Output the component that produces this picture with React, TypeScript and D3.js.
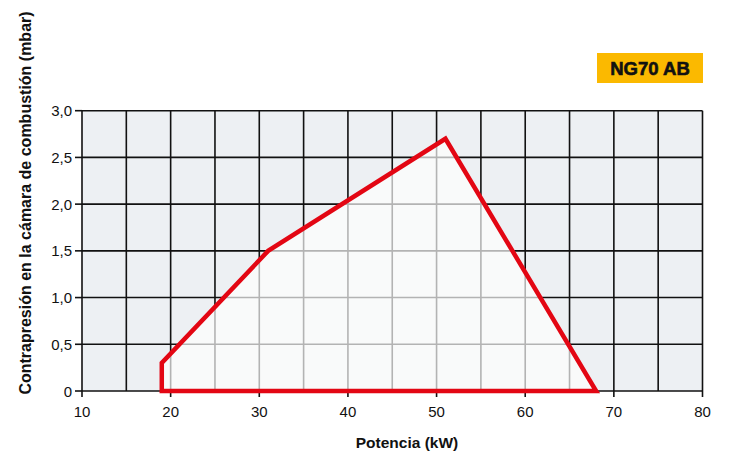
import React, { useEffect, useRef } from 'react';
import * as d3 from 'd3';

// operating field of the burner (kW, mbar)
const powerKW = [19, 19, 31, 51, 68];
const pressureMbar = [0, 0.3, 1.5, 2.7, 0];
const xTicks = [10, 20, 30, 40, 50, 60, 70, 80];
const yTicks = [0, 0.5, 1, 1.5, 2, 2.5, 3];
const xGrid = [10, 15, 20, 25, 30, 35, 40, 45, 50, 55, 60, 65, 70, 75, 80];
const modelLabel = 'NG70 AB';

const App = () => {
    const chartRef = useRef<SVGSVGElement | null>(null);

    useEffect(() => {
        drawChart();
    }, []);

    const drawChart = () => {
        const svg = d3.select(chartRef.current);
        svg.selectAll('*').remove();

        const left = 82;
        const right = 702.5;
        const top = 110.7;
        const bottom = 391;
        const font = 'Liberation Sans, Arial, sans-serif';

        const x = d3.scaleLinear().domain([10, 80]).range([left, right]);
        const y = d3.scaleLinear().domain([0, 3]).range([bottom, top]);

        const pts: [number, number][] = powerKW.map((p, i) => [x(p), y(pressureMbar[i])]);
        const polyPath = d3.line()(pts) + 'Z';

        svg.append('rect')
            .attr('x', left).attr('y', top)
            .attr('width', right - left).attr('height', bottom - top)
            .attr('fill', '#edf0f3');

        const drawGrid = (g: any, color: string) => {
            g.selectAll('.v').data(xGrid).enter().append('line')
                .attr('x1', (d: number) => x(d)).attr('x2', (d: number) => x(d))
                .attr('y1', top).attr('y2', bottom)
                .attr('stroke', color).attr('stroke-width', 1.6);
            g.selectAll('.h').data(yTicks).enter().append('line')
                .attr('x1', left).attr('x2', right)
                .attr('y1', (d: number) => y(d)).attr('y2', (d: number) => y(d))
                .attr('stroke', color).attr('stroke-width', 1.6);
        };

        drawGrid(svg.append('g'), '#111');

        svg.append('clipPath').attr('id', 'field')
            .append('path').attr('d', polyPath);

        svg.append('path').attr('d', polyPath).attr('fill', '#f9fafa');
        drawGrid(svg.append('g').attr('clip-path', 'url(#field)'), '#b3b3b3');

        // ticks
        svg.append('g').selectAll('line').data(xTicks).enter().append('line')
            .attr('x1', d => x(d)).attr('x2', d => x(d))
            .attr('y1', bottom).attr('y2', bottom + 6)
            .attr('stroke', '#111').attr('stroke-width', 1.6);
        svg.append('g').selectAll('line').data(yTicks).enter().append('line')
            .attr('x1', left - 7).attr('x2', left)
            .attr('y1', d => y(d)).attr('y2', d => y(d))
            .attr('stroke', '#111').attr('stroke-width', 1.6);

        svg.append('path').attr('d', polyPath)
            .attr('fill', 'none').attr('stroke', '#e30613')
            .attr('stroke-width', 4.5).attr('stroke-linejoin', 'miter');

        svg.append('g').selectAll('text').data(xTicks).enter().append('text')
            .attr('x', d => x(d)).attr('y', bottom + 26)
            .attr('text-anchor', 'middle')
            .attr('font-family', font).attr('font-size', 15).attr('fill', '#111')
            .text(d => d);

        svg.append('g').selectAll('text').data(yTicks).enter().append('text')
            .attr('x', left - 10).attr('y', d => y(d) + 5.5)
            .attr('text-anchor', 'end')
            .attr('font-family', font).attr('font-size', 15).attr('fill', '#111')
            .text(d => (d === 0 ? '0' : d3.format('.1f')(d).replace('.', ',')));

        svg.append('text')
            .attr('x', 407).attr('y', 448)
            .attr('text-anchor', 'middle')
            .attr('font-family', font).attr('font-size', 15.5).attr('font-weight', 'bold')
            .attr('fill', '#111')
            .text('Potencia (kW)');

        svg.append('text')
            .attr('transform', 'translate(31, 203) rotate(-90)')
            .attr('text-anchor', 'middle')
            .attr('font-family', font).attr('font-size', 16).attr('font-weight', 'bold')
            .attr('fill', '#111')
            .text('Contrapresión en la cámara de combustión (mbar)');

        svg.append('rect')
            .attr('x', 597).attr('y', 53).attr('width', 106).attr('height', 30)
            .attr('fill', '#fbb900');
        svg.append('text')
            .attr('x', 650).attr('y', 74.5)
            .attr('text-anchor', 'middle')
            .attr('font-family', font).attr('font-size', 18.5).attr('font-weight', 'bold')
            .attr('fill', '#111')
            .attr('stroke', '#111').attr('stroke-width', 0.6)
            .text(modelLabel);
    };

    return (
        <svg ref={chartRef} width="731" height="457"
            style={{ position: 'absolute', left: 0, top: 0 }} />
    );
};

export default App;
